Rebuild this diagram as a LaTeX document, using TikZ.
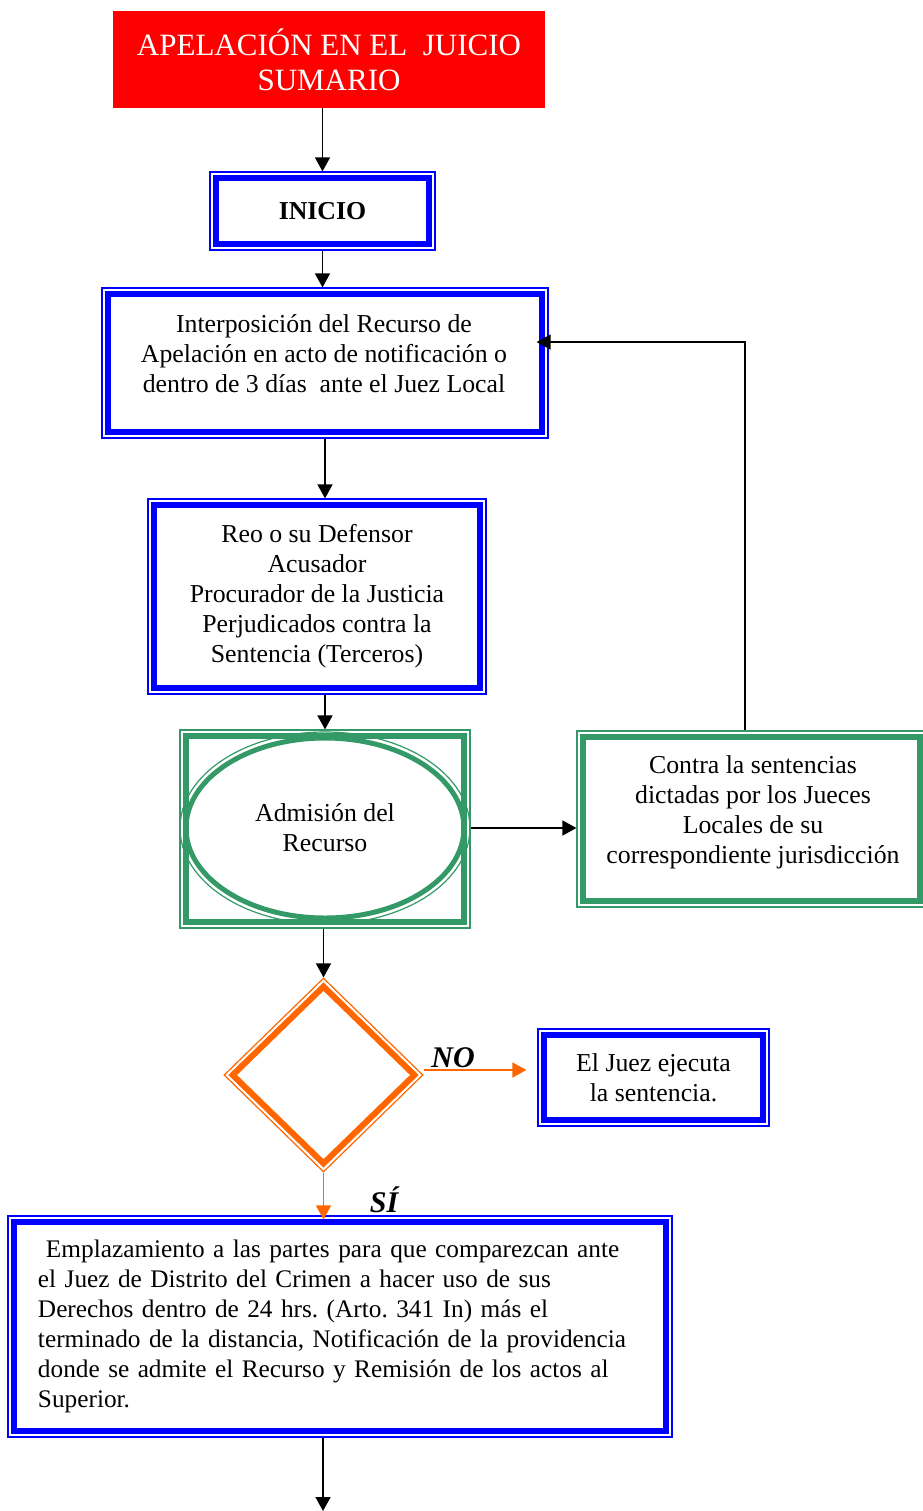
\documentclass[tikz,border=0pt]{standalone}
\usepackage{fontspec}
\setmainfont{Liberation Serif}
\usetikzlibrary{shapes.geometric,arrows.meta}
\definecolor{wordblue}{RGB}{0,0,255}
\definecolor{seagreen}{RGB}{51,153,102}
\definecolor{wordorange}{RGB}{255,102,0}
\frenchspacing
\begin{document}
\begin{tikzpicture}[x=0.5pt,y=-0.5pt]
\tikzstyle{every node}=[font=\fontsize{12.9}{15}\selectfont, align=center, inner sep=0pt]
\tikzstyle{bluebox}=[rectangle, draw=wordblue, line width=0.6pt,
  path picture={\draw[wordblue, line width=3pt]
    ([shift={(3pt,-3pt)}]path picture bounding box.north west) rectangle
    ([shift={(-3pt,3pt)}]path picture bounding box.south east);}]
\tikzstyle{greenbox}=[rectangle, draw=seagreen, line width=0.6pt,
  path picture={\draw[seagreen, line width=2.8pt]
    ([shift={(3pt,-3pt)}]path picture bounding box.north west) rectangle
    ([shift={(-3pt,3pt)}]path picture bounding box.south east);}]
\tikzstyle{greenellipse}=[ellipse, draw=seagreen, line width=0.6pt,
  path picture={\draw[seagreen, line width=2.5pt]
    (path picture bounding box.center) ellipse [x radius=69.5pt, y radius=45pt];}]
\tikzstyle{orangediamond}=[diamond, draw=wordorange, line width=0.6pt,
  path picture={\draw[wordorange, line width=3pt, line join=miter]
    ([yshift=-4.2pt]path picture bounding box.north) --
    ([xshift=-4.2pt]path picture bounding box.east) --
    ([yshift=4.2pt]path picture bounding box.south) --
    ([xshift=4.2pt]path picture bounding box.west) -- cycle;}]
\tikzstyle{arr}=[-{Triangle[length=7pt,width=7.5pt]}, line width=0.75pt]
\tikzstyle{oarr}=[arr, wordorange]
\tikzstyle{lbl}=[font=\fontsize{15}{17}\selectfont\bfseries\itshape]
\useasboundingbox (0,0) rectangle (922,1511);

% boxes
\node[fill=red, minimum width=216pt, minimum height=48.5pt, text=white,
  font=\fontsize{15.5}{17.5}\selectfont] (title) at (329,59.5)
  {APELACIÓN EN EL \ JUICIO\\SUMARIO};
\node[bluebox, minimum width=112.5pt, minimum height=39pt,
  font=\fontsize{12.9}{15}\selectfont\bfseries] (inicio) at (322.5,211) {INICIO};
\node[bluebox, minimum width=223pt, minimum height=75pt] (interp) at (325,363) {};
\node (interp-t) at (324,354)
  {Interposición del Recurso de\\Apelación en acto de notificación o\\dentro de 3 días \ ante el Juez Local};
\node[bluebox, minimum width=169pt, minimum height=97.5pt] (reo) at (317,596.5)
  {Reo o su Defensor\\Acusador\\Procurador de la Justicia\\Perjudicados contra la\\Sentencia (Terceros)};
\node[greenbox, minimum width=145pt, minimum height=99pt] (adm-sq) at (325,829) {};
\node[greenellipse, minimum width=145pt, minimum height=96pt] (adm) at (325,828)
  {Admisión del\\Recurso};
\node[greenbox, minimum width=174.5pt, minimum height=88pt] (contra) at (751.5,819) {};
\node (contra-t) at (753,812)
  {Contra la sentencias\\dictadas por los Jueces\\Locales de su\\correspondiente jurisdicción};
\node[orangediamond, minimum width=99.5pt, minimum height=97pt] (dec) at (323.5,1075) {};
\node[bluebox, minimum width=115.5pt, minimum height=48.5pt] (juez) at (653.5,1077.5)
  {El Juez ejecuta\\la sentencia.};
\node[bluebox, minimum width=332pt, minimum height=110.5pt, text width=302pt, align=left,
  font=\fontsize{12.65}{15}\selectfont] (empl) at (340,1326.5)
  {\hspace*{4pt}Emplazamiento a las partes para que comparezcan ante\\
   el Juez de Distrito del Crimen a hacer uso de sus\\
   Derechos dentro de 24 hrs. (Arto. 341 In) más el\\
   terminado de la distancia, Notificación de la providencia\\
   donde se admite el Recurso y Remisión de los actos al\\
   Superior.};
\coordinate (fin) at (323,1511);

% labels
\node[lbl] (no) at (453,1058) {NO};
\node[lbl] (si) at (384,1200) {SÍ};

% connectors
\draw[arr] (title.south -| inicio) -- (inicio);
\draw[arr] (inicio.south) -- (inicio.south |- interp.north);
\draw[arr] (interp.south) -- (interp.south |- reo.north);
\draw[arr] (adm-sq.north |- reo.south) -- (adm-sq.north);
\draw[arr] (adm.east) -- (adm.east -| contra.west);
\draw[arr] ([xshift=-3.25pt]contra.north) |- ([xshift=-6pt,yshift=10.5pt]interp.east);
\draw[arr] (dec.north |- adm-sq.south) -- (dec.north);
\draw[oarr, shorten >=5.5pt] ([yshift=2.5pt]dec.east) -- ([yshift=2.5pt]dec.east -| juez.west);
\draw[oarr, shorten >=-2pt] (dec.south) -- (dec.south |- empl.north);
\draw[arr] (empl.south -| fin) -- (fin);
\end{tikzpicture}
\end{document}
